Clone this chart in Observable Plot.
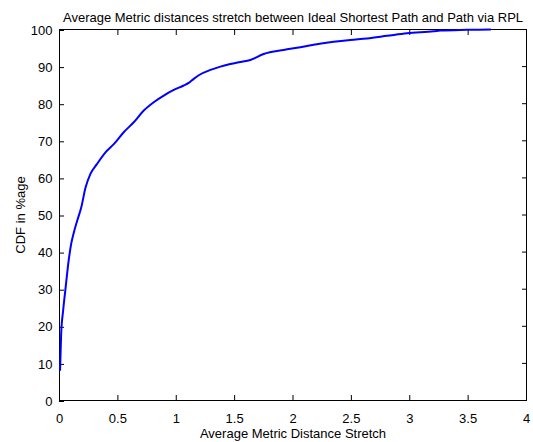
<!DOCTYPE html>
<html><head><meta charset="utf-8">
<script src="https://cdn.jsdelivr.net/npm/d3@7"></script>
<script src="https://cdn.jsdelivr.net/npm/@observablehq/plot@0.6"></script>
<style>body{margin:0;background:#fff}svg{display:block}</style>
</head><body><div id="chart"></div>
<script>
const title = "Average Metric distances stretch between Ideal Shortest Path and Path via RPL";
const xLabel = "Average Metric Distance Stretch";
const yLabel = "CDF in %age";
const xTicks = [0, 0.5, 1, 1.5, 2, 2.5, 3, 3.5, 4];
const yTicks = [0, 10, 20, 30, 40, 50, 60, 70, 80, 90, 100];
const stretch = [0.005, 0.014, 0.031, 0.051, 0.08, 0.10, 0.123, 0.151, 0.186, 0.223, 0.265, 0.32, 0.394, 0.465, 0.55, 0.636, 0.72, 0.807, 0.893, 0.979, 1.064, 1.107, 1.15, 1.2, 1.293, 1.378, 1.464, 1.535, 1.635, 1.749, 1.92, 2.063, 2.177, 2.348, 2.491, 2.634, 2.806, 2.977, 3.205, 3.262, 3.49, 3.69];
const cdf = [8.2, 17.8, 24.2, 30, 38.1, 42.2, 45.3, 48.4, 52, 57.4, 61.1, 63.7, 66.9, 69.1, 72.3, 75, 78.1, 80.4, 82.2, 83.7, 84.9, 85.6, 86.7, 87.8, 89.1, 90, 90.7, 91.2, 91.8, 93.4, 94.5, 95.2, 95.9, 96.7, 97.2, 97.6, 98.3, 99.0, 99.5, 99.7, 99.9, 100];
const data = stretch.map((x, i) => ({x, y: cdf[i]}));
const font = "Liberation Sans, Arial, sans-serif";
const chart = Plot.plot({
  width: 533, height: 442,
  marginLeft: 59, marginRight: 7, marginTop: 29, marginBottom: 42,
  style: {fontFamily: font, fontSize: "13px", color: "#000", background: "#fff"},
  x: {domain: [0, 4]},
  y: {domain: [0, 100]},
  marks: [
    Plot.frame({stroke: "#000"}),
    Plot.axisX({ticks: xTicks, tickSize: -5, tickPadding: 18, tickFormat: d => String(d), label: xLabel, labelAnchor: "center", labelArrow: "none", labelOffset: 37, fontSize: 13}),
    Plot.axisX({anchor: "top", ticks: xTicks, tickSize: -5, tickFormat: () => "", label: null}),
    Plot.axisY({ticks: yTicks, tickSize: -5, tickPadding: 12, dy: 1, label: yLabel, labelAnchor: "center", labelArrow: "none", labelOffset: 44, fontSize: 13}),
    Plot.axisY({anchor: "right", ticks: yTicks, tickSize: -5, tickFormat: () => "", label: null}),
    Plot.line(data, {x: "x", y: "y", stroke: "#0000ff", strokeWidth: 2, curve: "monotone-x"}),
    Plot.text([title], {frameAnchor: "top", dy: -17, fontSize: 13})
  ]
});
document.getElementById("chart").append(chart);
</script></body></html>
